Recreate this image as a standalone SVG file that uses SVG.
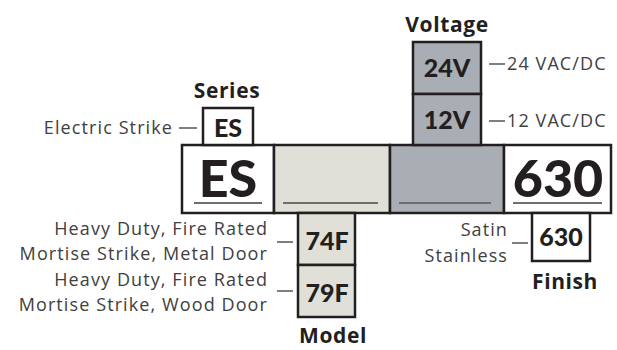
<svg xmlns="http://www.w3.org/2000/svg" width="617" height="350" viewBox="0 0 617 350">
<style>
.box{stroke:#231f20;stroke-width:2.5}
.w{fill:#ffffff}
.tan{fill:#e0dfd8}
.gry{fill:#a9aeb4}
.code{font-family:"Lato","Noto Sans",sans-serif;font-weight:900;fill:#231f20;text-anchor:middle}
.big{font-size:52px}
.mid{font-size:25px}
.cat{font-family:"Open Sans","Noto Sans",sans-serif;font-weight:700;font-size:21px;letter-spacing:0.6px;fill:#231f20;text-anchor:middle}
.lbl{font-family:"Open Sans","Noto Sans",sans-serif;font-size:18px;letter-spacing:1.1px;fill:#404040}
.r{text-anchor:end}
.ul{stroke:#6d6e70;stroke-width:2}
.dash{stroke:#3a3a3a;stroke-width:1.3}
</style>
<rect width="617" height="350" fill="#ffffff"/>
<g id="main-es">
<rect class="box w" x="182" y="145" width="92" height="68"/>
<text class="code big" x="228" y="197">ES</text>
<line class="ul" x1="194" y1="203" x2="262" y2="203"/>
</g>
<g id="main-model">
<rect class="box tan" x="274" y="145" width="116" height="68"/>
<line class="ul" x1="283" y1="203" x2="378" y2="203"/>
</g>
<g id="main-voltage">
<rect class="box gry" x="390" y="145" width="114" height="68"/>
<line class="ul" x1="399" y1="203" x2="491" y2="203"/>
</g>
<g id="main-finish">
<rect class="box w" x="504" y="145" width="107" height="68"/>
<text class="code big" x="558" y="197">630</text>
<line class="ul" x1="513" y1="203" x2="602" y2="203"/>
</g>
<g id="series">
<text class="cat" x="227" y="98">Series</text>
<rect class="box w" x="203" y="108" width="50" height="37"/>
<text class="code mid" x="228" y="137">ES</text>
<text class="lbl r" x="173" y="134">Electric Strike</text>
</g>
<g id="voltage">
<text class="cat" x="447" y="32">Voltage</text>
<rect class="box gry" x="413" y="42" width="68" height="52"/>
<text class="code mid" x="447" y="77">24V</text>
<rect class="box gry" x="413" y="94" width="68" height="51"/>
<text class="code mid" x="447" y="129">12V</text>
<text class="lbl" x="507" y="70">24 VAC/DC</text>
<text class="lbl" x="507" y="127">12 VAC/DC</text>
</g>
<g id="model">
<rect class="box tan" x="298" y="213" width="57" height="52"/>
<text class="code mid" x="327" y="250">74F</text>
<rect class="box tan" x="298" y="265" width="57" height="52"/>
<text class="code mid" x="327" y="302">79F</text>
<text class="cat" x="333" y="343">Model</text>
<text class="lbl r" x="268" y="235">Heavy Duty, Fire Rated</text>
<text class="lbl r" x="268" y="260">Mortise Strike, Metal Door</text>
<text class="lbl r" x="268" y="286">Heavy Duty, Fire Rated</text>
<text class="lbl r" x="268" y="311">Mortise Strike, Wood Door</text>
</g>
<g id="finish">
<rect class="box w" x="532" y="213" width="58" height="48"/>
<text class="code mid" x="561" y="246">630</text>
<text class="cat" x="565" y="289">Finish</text>
<text class="lbl r" x="508" y="236">Satin</text>
<text class="lbl r" x="508" y="262">Stainless</text>
</g>
<g id="connectors">
<line class="dash" x1="179" y1="128" x2="197" y2="128"/>
<line class="dash" x1="489" y1="64" x2="505" y2="64"/>
<line class="dash" x1="489" y1="121" x2="505" y2="121"/>
<line class="dash" x1="277" y1="242" x2="293" y2="242"/>
<line class="dash" x1="277" y1="291" x2="293" y2="291"/>
<line class="dash" x1="512" y1="243" x2="528" y2="243"/>
</g>
</svg>
